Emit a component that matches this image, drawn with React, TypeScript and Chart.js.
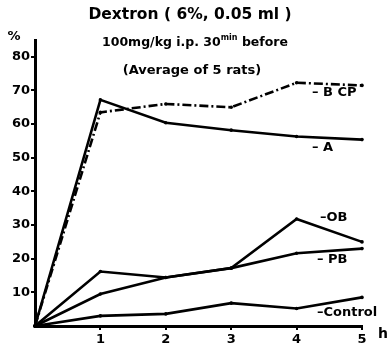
import React, { useEffect, useRef } from "react";
import { Chart, registerables } from "chart.js";

Chart.register(...registerables);

const hours = [0, 1, 2, 3, 4, 5];
const seriesNames = ["BCP", "A", "OB", "PB", "Control"];
const bcpValues = [0, 63.5, 66, 65, 72.3, 71.5];
const aValues = [0, 67.2, 60.4, 58.2, 56.3, 55.4];
const obValues = [0, 16.2, 14.4, 17.2, 31.8, 25];
const pbValues = [0, 9.5, 14.4, 17.2, 21.6, 23];
const controlValues = [0, 3, 3.6, 6.8, 5.2, 8.5];
const yTickValues = [10, 20, 30, 40, 50, 60, 70, 80];
const xTickValues = [1, 2, 3, 4, 5];
const titleLine1 = "Dextron ( 6%, 0.05 ml )";
const titleLine2a = "100mg/kg i.p. 30";
const titleLine2sup = "min";
const titleLine2b = " before";
const titleLine3 = "(Average of 5 rats)";
const yUnit = "%";
const xUnit = "h";
const seriesLabels = ["– B CP", "– A", "–OB", "– PB", "–Control"];

const FONT = "'DejaVu Sans', 'Liberation Sans', sans-serif";

const textPlugin = {
  id: "texts",
  afterDraw(chart: any) {
    const ctx = chart.ctx as CanvasRenderingContext2D;
    const area = chart.chartArea;
    const xs = chart.scales.x;
    const ys = chart.scales.y;
    ctx.save();
    ctx.fillStyle = "#000";
    ctx.textBaseline = "middle";

    // Title line 1
    ctx.font = `bold 15.5px ${FONT}`;
    ctx.textAlign = "center";
    ctx.fillText(titleLine1, 190, 15);

    // Title line 2 with superscript
    ctx.textAlign = "left";
    ctx.font = `bold 12.5px ${FONT}`;
    const wA = ctx.measureText(titleLine2a).width;
    const wB = ctx.measureText(titleLine2b).width;
    ctx.font = `bold 8px ${FONT}`;
    const wS = ctx.measureText(titleLine2sup).width;
    const total = wA + wS + wB;
    const x0 = 195 - total / 2;
    ctx.font = `bold 12.5px ${FONT}`;
    ctx.fillText(titleLine2a, x0, 43);
    ctx.font = `bold 8px ${FONT}`;
    ctx.fillText(titleLine2sup, x0 + wA, 38);
    ctx.font = `bold 12.5px ${FONT}`;
    ctx.fillText(titleLine2b, x0 + wA + wS, 43);

    // Title line 3
    ctx.textAlign = "center";
    ctx.font = `bold 13px ${FONT}`;
    ctx.fillText(titleLine3, 192, 71);

    // Units
    ctx.font = `bold 13px ${FONT}`;
    ctx.fillText(yUnit, 14, 37);
    ctx.textAlign = "left";
    ctx.font = `bold 14px ${FONT}`;
    ctx.fillText(xUnit, area.right + 16, 334);

    // Series labels next to line ends
    const offsets = [
      { dx: -50, dy: 7 },
      { dx: -50, dy: 8 },
      { dx: -42, dy: -24 },
      { dx: -45, dy: 11 },
      { dx: -45, dy: 15 },
    ];
    ctx.font = `bold 13px ${FONT}`;
    chart.data.datasets.forEach((ds: any, i: number) => {
      const last = ds.data[ds.data.length - 1];
      const px = xs.getPixelForValue(last.x);
      const py = ys.getPixelForValue(last.y);
      ctx.fillText(seriesLabels[i], px + offsets[i].dx, py + offsets[i].dy);
    });
    ctx.restore();
  },
};

export default function App() {
  const ref = useRef<HTMLCanvasElement | null>(null);
  useEffect(() => {
    if (!ref.current) return;
    const all = [bcpValues, aValues, obValues, pbValues, controlValues];
    const datasets = all.map((vals, i) => ({
      label: seriesNames[i],
      data: hours.map((h, j) => ({ x: h, y: vals[j] })),
      borderColor: "#000",
      backgroundColor: "#000",
      borderWidth: 2.6,
      borderDash: i === 0 ? [9, 3, 2, 3] : [],
      pointRadius: 1.8,
      pointBorderWidth: 0,
      pointBackgroundColor: "#000",
      tension: 0,
      clip: false as any,
    }));
    const chart = new Chart(ref.current, {
      type: "line",
      data: { datasets },
      plugins: [textPlugin],
      options: {
        animation: false,
        responsive: false,
        maintainAspectRatio: false,
        layout: { padding: { top: 40, right: 26, left: 0, bottom: 0 } },
        plugins: { legend: { display: false }, tooltip: { enabled: false }, title: { display: false } },
        scales: {
          x: {
            type: "linear",
            min: 0,
            max: 5,
            afterBuildTicks: (s: any) => {
              s.ticks = xTickValues.map((v) => ({ value: v }));
            },
            afterFit: (s: any) => {
              s.height = 21;
            },
            grid: { display: true, drawOnChartArea: false, drawTicks: true, tickLength: 4, color: "#000", lineWidth: 2 },
            border: { display: true, color: "#000", width: 3 },
            ticks: { color: "#000", font: { family: FONT, size: 13, weight: "bold" }, padding: 2, maxRotation: 0, autoSkip: false },
          },
          y: {
            type: "linear",
            min: 0,
            max: 85,
            afterBuildTicks: (s: any) => {
              s.ticks = yTickValues.map((v) => ({ value: v }));
            },
            afterFit: (s: any) => {
              s.width = 35;
            },
            grid: { display: true, drawOnChartArea: false, drawTicks: true, tickLength: 4, color: "#000", lineWidth: 2 },
            border: { display: true, color: "#000", width: 3 },
            ticks: { color: "#000", font: { family: FONT, size: 13, weight: "bold" }, padding: 1, autoSkip: false },
          },
        },
      } as any,
    });
    return () => chart.destroy();
  }, []);
  return (
    <div style={{ position: "fixed", left: 0, top: 0, width: 388, height: 347, background: "#fff" }}>
      <canvas ref={ref} width={388} height={347} style={{ width: 388, height: 347, display: "block" }} />
    </div>
  );
}
